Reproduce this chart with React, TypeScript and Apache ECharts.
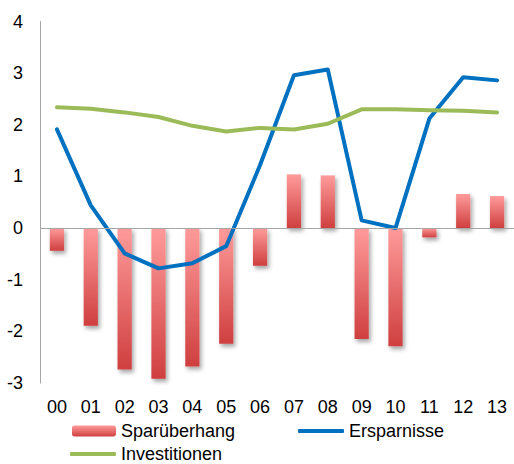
import React, { useEffect, useRef } from "react";
import * as echarts from "echarts";

const categories = ["00", "01", "02", "03", "04", "05", "06", "07", "08", "09", "10", "11", "12", "13"];
const sparueberhang = [-0.44, -1.89, -2.74, -2.92, -2.68, -2.24, -0.73, 1.04, 1.02, -2.15, -2.29, -0.18, 0.66, 0.62];
const ersparnisse = [1.91, 0.44, -0.49, -0.78, -0.68, -0.35, 1.22, 2.96, 3.07, 0.15, 0.0, 2.12, 2.92, 2.86];
const investitionen = [2.34, 2.31, 2.24, 2.15, 1.98, 1.87, 1.94, 1.91, 2.02, 2.3, 2.3, 2.28, 2.27, 2.24];
const yTicks = { min: -3, max: 4, interval: 1 };

const FONT = "'Liberation Sans', Arial, sans-serif";

export default function App() {
  const ref = useRef<HTMLDivElement>(null);
  useEffect(() => {
    document.body.style.margin = "0";
    if (!ref.current) return;
    const chart = echarts.init(ref.current, undefined, { renderer: "svg" });
    const barGradient = new echarts.graphic.LinearGradient(0, 0, 0, 1, [
      { offset: 0, color: "#FF9B9B" },
      { offset: 1, color: "#CF3F3F" },
    ]);
    const legendText = { fontSize: 18, color: "#000", fontFamily: FONT };
    chart.setOption({
      animation: false,
      textStyle: { fontFamily: FONT },
      grid: { left: 40, right: 0, top: 21.5, bottom: 81, containLabel: false },
      legend: [
        {
          data: ["Sparüberhang"],
          left: 72,
          top: 422,
          itemWidth: 44,
          itemHeight: 11,
          itemGap: 0,
          padding: 0,
          textStyle: legendText,
        },
        {
          data: [{ name: "Ersparnisse", icon: "roundRect" }],
          left: 298,
          top: 422,
          itemWidth: 46,
          itemHeight: 4,
          padding: 0,
          textStyle: legendText,
        },
        {
          data: [{ name: "Investitionen", icon: "roundRect" }],
          left: 70,
          top: 445,
          itemWidth: 46,
          itemHeight: 4,
          padding: 0,
          textStyle: legendText,
        },
      ],
      xAxis: {
        type: "category",
        data: categories,
        axisLine: { show: false, onZero: false },
        axisTick: { show: false },
        axisLabel: { fontSize: 18, color: "#000", margin: 15, fontFamily: FONT },
        splitLine: { show: false },
      },
      yAxis: {
        type: "value",
        min: yTicks.min,
        max: yTicks.max,
        interval: yTicks.interval,
        axisLine: { show: true, lineStyle: { color: "#A6A6A6", width: 1 } },
        axisTick: { show: false },
        splitLine: { show: false },
        axisLabel: { fontSize: 18, color: "#000", margin: 17, fontFamily: FONT },
      },
      series: [
        {
          name: "Sparüberhang",
          type: "bar",
          data: sparueberhang,
          barWidth: "42%",
          itemStyle: {
            color: barGradient,
            shadowColor: "rgba(0,0,0,0.35)",
            shadowBlur: 4,
            shadowOffsetX: 2,
            shadowOffsetY: 3,
          },
          markLine: {
            silent: true,
            symbol: ["none", "none"],
            label: { show: false },
            lineStyle: { color: "#A6A6A6", width: 1, type: "solid" },
            data: [{ yAxis: 0 }],
          },
        },
        {
          name: "Ersparnisse",
          type: "line",
          data: ersparnisse,
          symbol: "none",
          lineStyle: { color: "#0070C0", width: 4, cap: "round", join: "round" },
          itemStyle: { color: "#0070C0" },
        },
        {
          name: "Investitionen",
          type: "line",
          data: investitionen,
          symbol: "none",
          lineStyle: { color: "#9BBB59", width: 4, cap: "round", join: "round" },
          itemStyle: { color: "#9BBB59" },
        },
      ],
    });
    return () => chart.dispose();
  }, []);
  return <div ref={ref} style={{ width: 514, height: 464 }} />;
}
